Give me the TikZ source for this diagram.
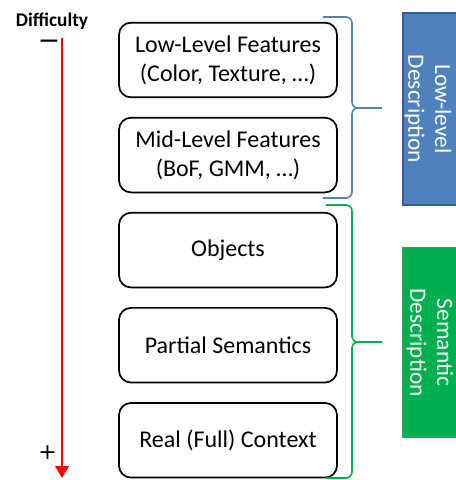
\documentclass[tikz,border=0pt]{standalone}
\usepackage{fontspec}
\setmainfont{Carlito}
\newfontfamily\znaky{DejaVu Sans}
\usetikzlibrary{positioning,arrows.meta}
\definecolor{modra}{HTML}{4F81BD}
\definecolor{modraT}{HTML}{385D8A}
\definecolor{zelena}{HTML}{00B050}
\definecolor{zelenaT}{HTML}{3A9A55}
\tikzset{
  uroven/.style={draw,line width=1.3pt,rounded corners=9pt,minimum width=163.5pt,minimum height=56pt,align=center,inner sep=2pt,font=\fontsize{18}{21.75}\selectfont},
  popisB/.style={draw=modraT,fill=modra,thick,minimum width=60pt,minimum height=144pt},
  popisG/.style={draw=zelenaT,fill=zelena,thick,minimum width=60pt,minimum height=143pt},
  popisT/.style={rotate=-90,text=white,align=center,font=\fontsize{17.5}{20}\selectfont},
  zav/.style={line width=1.2pt,rounded corners=4.5pt},
  znak/.style={inner sep=0pt,anchor=base,text height=9pt,text depth=0pt,font=\znaky\fontsize{16.5}{17}\selectfont},
  sip/.style={-{Triangle[width=10pt,length=9pt]},red,line width=2.2pt},
}

\begin{document}
\begin{tikzpicture}[x=0.75pt,y=-0.75pt,node distance=14pt]
  \useasboundingbox (0,0) rectangle (456,480);
  % urovne popisu
  \node[uroven] (nizke) at (228,60) {Low-Level Features\\(Color, Texture, \dots)};
  \node[uroven] (stredni) [below=of nizke] {Mid-Level Features\\(BoF, GMM, \dots)};
  \node[uroven] (objekty) [below=of stredni] {Objects};
  \node[uroven] (castecna) [below=of objekty] {Partial Semantics};
  \node[uroven] (kontext) [below=of castecna] {Real (Full) Context};
  % obtiznost
  \node[inner sep=0pt,font=\bfseries\fontsize{14.5}{15}\selectfont] (obtiznost) at (52,21) {Difficulty};
  \node[znak,font=\znaky\fontsize{20}{20}\selectfont] (minus) at (49,49) {−};
  \node[znak] (plus) at (47.5,459) {+};
  \coordinate (horni) at (62,38); \coordinate (dolni) at (62,478);
  \draw[sip] (horni) -- (dolni);
  % zavorky
  \draw[zav,modra] (323,17) -| (352,108) -- (382,108);
  \draw[zav,modra] (323,198) -| (352,108) -- (382,108);
  \draw[zav,zelena] (326,205) -| (352,342) -- (382,342);
  \draw[zav,zelena] (326,478) -| (352,342) -- (382,342);
  % popisy
  \node[popisB] (nizkyP) at (443,109) {};
  \node[popisT] (nizkyT) at (428,109) {Low-level\\Description};
  \node[popisG] (semP) at (443,342.5) {};
  \node[popisT] (semT) at (430,342.5) {Semantic\\Description};
\end{tikzpicture}
\end{document}
